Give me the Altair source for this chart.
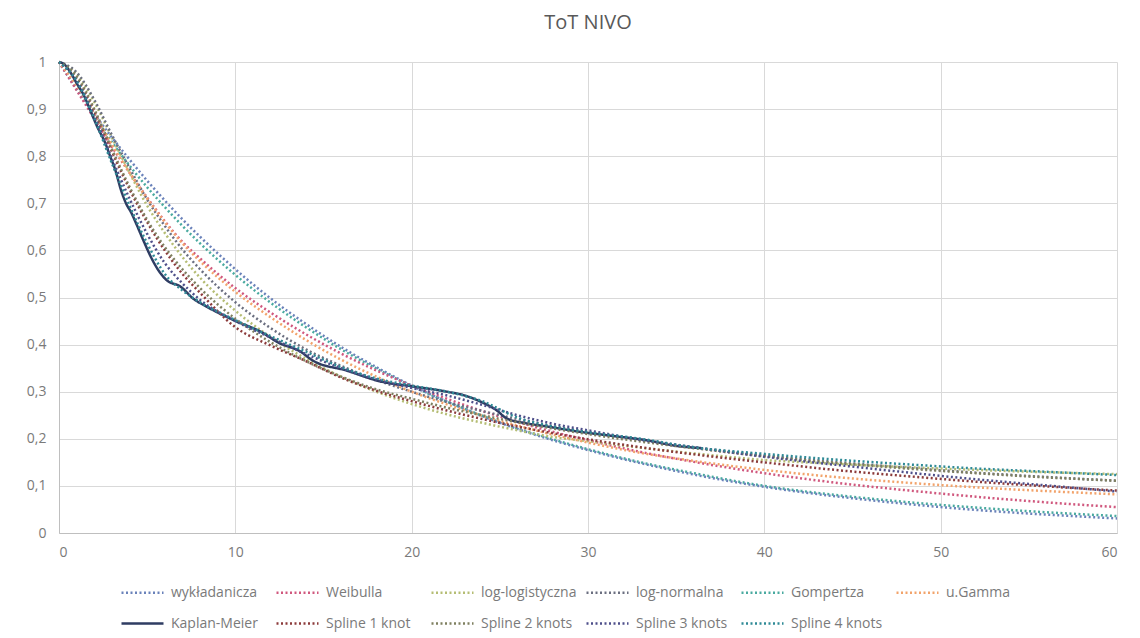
import altair as alt
import pandas as pd

# ---- data ----
T = [0, 1, 2, 3, 4, 5, 6, 7, 8, 10, 12, 14, 16, 18, 20, 22, 24, 26, 28, 30, 33, 36, 40, 44, 48, 52, 56, 60]

wykladanicza = [1, 0.944, 0.890, 0.840, 0.793, 0.748, 0.706, 0.666, 0.629, 0.560, 0.498, 0.444, 0.395, 0.352,
                0.313, 0.279, 0.248, 0.221, 0.197, 0.176, 0.148, 0.124, 0.098, 0.078, 0.062, 0.049, 0.039, 0.031]
weibulla = [1, 0.94, 0.88, 0.82, 0.765, 0.712, 0.662, 0.618, 0.583, 0.520, 0.468, 0.422, 0.381, 0.345,
            0.313, 0.285, 0.259, 0.236, 0.215, 0.197, 0.172, 0.151, 0.127, 0.107, 0.091, 0.077, 0.065, 0.055]
log_logistyczna = [1, 0.975, 0.915, 0.84, 0.765, 0.695, 0.637, 0.586, 0.542, 0.472, 0.416, 0.37, 0.332, 0.30,
                   0.274, 0.252, 0.234, 0.218, 0.204, 0.195, 0.181, 0.169, 0.155, 0.147, 0.140, 0.134, 0.129, 0.125]
log_normalna = [1, 0.978, 0.92, 0.845, 0.775, 0.708, 0.652, 0.602, 0.56, 0.49, 0.435, 0.39, 0.355, 0.325,
                0.30, 0.278, 0.259, 0.242, 0.227, 0.214, 0.197, 0.182, 0.165, 0.151, 0.139, 0.128, 0.119, 0.111]
gompertza = [1, 0.942, 0.884, 0.83, 0.78, 0.734, 0.692, 0.652, 0.615, 0.548, 0.489, 0.437, 0.39, 0.349,
             0.312, 0.279, 0.249, 0.222, 0.199, 0.178, 0.150, 0.127, 0.100, 0.081, 0.066, 0.054, 0.044, 0.036]
u_gamma = [1, 0.95, 0.89, 0.825, 0.765, 0.71, 0.66, 0.615, 0.577, 0.512, 0.458, 0.41, 0.368, 0.332,
           0.30, 0.273, 0.249, 0.228, 0.209, 0.192, 0.170, 0.153, 0.134, 0.119, 0.107, 0.097, 0.089, 0.082]
spline1 = [1, 0.965, 0.895, 0.81, 0.73, 0.66, 0.60, 0.55, 0.51, 0.437, 0.398, 0.365, 0.330, 0.302,
           0.280, 0.260, 0.242, 0.226, 0.212, 0.199, 0.182, 0.167, 0.150, 0.134, 0.121, 0.109, 0.099, 0.090]
spline2 = [1, 0.97, 0.90, 0.815, 0.735, 0.665, 0.607, 0.56, 0.52, 0.455, 0.405, 0.365, 0.332, 0.305,
           0.285, 0.266, 0.25, 0.235, 0.222, 0.21, 0.194, 0.18, 0.163, 0.149, 0.137, 0.127, 0.118, 0.111]
spline3 = [1, 0.96, 0.885, 0.795, 0.71, 0.635, 0.573, 0.53, 0.495, 0.45, 0.415, 0.38, 0.35, 0.326,
           0.308, 0.292, 0.272, 0.25, 0.232, 0.218, 0.198, 0.182, 0.162, 0.145, 0.129, 0.114, 0.101, 0.088]
spline4 = [1, 0.96, 0.88, 0.785, 0.695, 0.615, 0.55, 0.515, 0.49, 0.452, 0.418, 0.385, 0.352, 0.328,
           0.313, 0.30, 0.28, 0.245, 0.226, 0.214, 0.2, 0.182, 0.168, 0.156, 0.146, 0.137, 0.13, 0.123]

km_t = [0, 0.3, 0.7, 1.0, 1.4, 1.8, 2.2, 2.6, 2.9, 3.2, 3.5, 3.8, 4.1, 4.4, 4.8, 5.2, 5.6, 6.1, 6.9, 7.6,
        8.4, 9.9, 11.6, 12.4, 13.7, 14.4, 16.3, 18.2, 20.1, 22.0, 23.0, 23.9, 24.8, 25.4, 26.5, 27.7,
        29.5, 31.4, 33.3, 35.0, 36.5]
km_s = [1.0, 0.995, 0.975, 0.955, 0.93, 0.895, 0.86, 0.83, 0.80, 0.77, 0.73, 0.70, 0.68, 0.655, 0.62,
        0.587, 0.56, 0.537, 0.523, 0.498, 0.48, 0.452, 0.424, 0.405, 0.385, 0.366, 0.345, 0.322, 0.311,
        0.30, 0.292, 0.279, 0.261, 0.243, 0.233, 0.226, 0.215, 0.206, 0.197, 0.185, 0.18]

names = ["wykładanicza", "Weibulla", "log-logistyczna", "log-normalna", "Gompertza", "u.Gamma",
         "Kaplan-Meier", "Spline 1 knot", "Spline 2 knots", "Spline 3 knots", "Spline 4 knots"]
colors = ["#6a82ba", "#d0587e", "#b5bd74", "#6b6f80", "#4aaaa0", "#f2a36b",
          "#2f3d63", "#8c3b3b", "#7f8060", "#4e4f8a", "#2f8a96"]
dot = [2, 2.5]
dashes = [dot] * 6 + [[1, 0]] + [dot] * 4


def frame(labels, series, t):
    rows = []
    for lab, vals in zip(labels, series):
        for tt, v in zip(t, vals):
            rows.append({"t": tt, "S": v, "series": lab})
    return pd.DataFrame(rows)


df_gomp = frame([names[4]], [gompertza], T)
df_param = frame([names[0], names[1], names[2], names[3], names[5]],
                 [wykladanicza, weibulla, log_logistyczna, log_normalna, u_gamma], T)
df_km = frame([names[6]], [km_s], km_t)
df_spl = frame(names[7:], [spline1, spline2, spline3, spline4], T)

FONT = "Open Sans"
TITLE_GRAY = "#595959"
LABEL_GRAY = "#7a7a7a"

x_enc = alt.X("t:Q", scale=alt.Scale(domain=[0, 60], nice=False),
              axis=alt.Axis(values=[0, 10, 20, 30, 40, 50, 60], title=None, grid=True,
                            gridColor="#d9d9d9", domainColor="#bfbfbf", ticks=False,
                            labelColor=LABEL_GRAY, labelFontSize=14, labelFont=FONT, labelPadding=12))
y_enc = alt.Y("S:Q", scale=alt.Scale(domain=[0, 1], nice=False),
              axis=alt.Axis(values=[0, 0.1, 0.2, 0.3, 0.4, 0.5, 0.6, 0.7, 0.8, 0.9, 1.0], title=None,
                            grid=True, gridColor="#d9d9d9", domainColor="#bfbfbf", ticks=False,
                            labelColor=LABEL_GRAY, labelFontSize=14, labelFont=FONT, labelPadding=13,
                            labelExpr="replace(format(datum.value, '.1~f'), '.', ',')"))
color_enc = alt.Color("series:N", scale=alt.Scale(domain=names, range=colors), sort=names,
                      legend=alt.Legend(title=None, orient="none", legendX=61, legendY=508,
                                        columns=6, direction="horizontal",
                                        symbolType="M-1,0H1", symbolSize=1764, symbolStrokeWidth=2.5,
                                        labelColor=LABEL_GRAY, labelFontSize=14, labelFont=FONT,
                                        labelOffset=6, labelLimit=300, gridAlign="all",
                                        columnPadding=4, rowPadding=1))
dash_enc = alt.StrokeDash("series:N", scale=alt.Scale(domain=names, range=dashes), sort=names,
                          legend=None)


def layer(df):
    return alt.Chart(df).mark_line(interpolate="monotone", strokeWidth=2.5).encode(
        x=x_enc, y=y_enc, color=color_enc, strokeDash=dash_enc, detail="series:N")


chart = alt.layer(layer(df_gomp), layer(df_param), layer(df_km), layer(df_spl)).properties(
    width=1058, height=471,
    title=alt.Title("ToT NIVO", fontSize=20, color=TITLE_GRAY, font=FONT, fontWeight="normal", offset=22),
    autosize=alt.AutoSizeParams(type="none"),
    padding={"left": 51, "top": 54, "right": 15, "bottom": 105},
    background="white",
).configure_view(strokeWidth=0)

chart.save("out.html", embed_options={"renderer": "svg", "actions": False})
